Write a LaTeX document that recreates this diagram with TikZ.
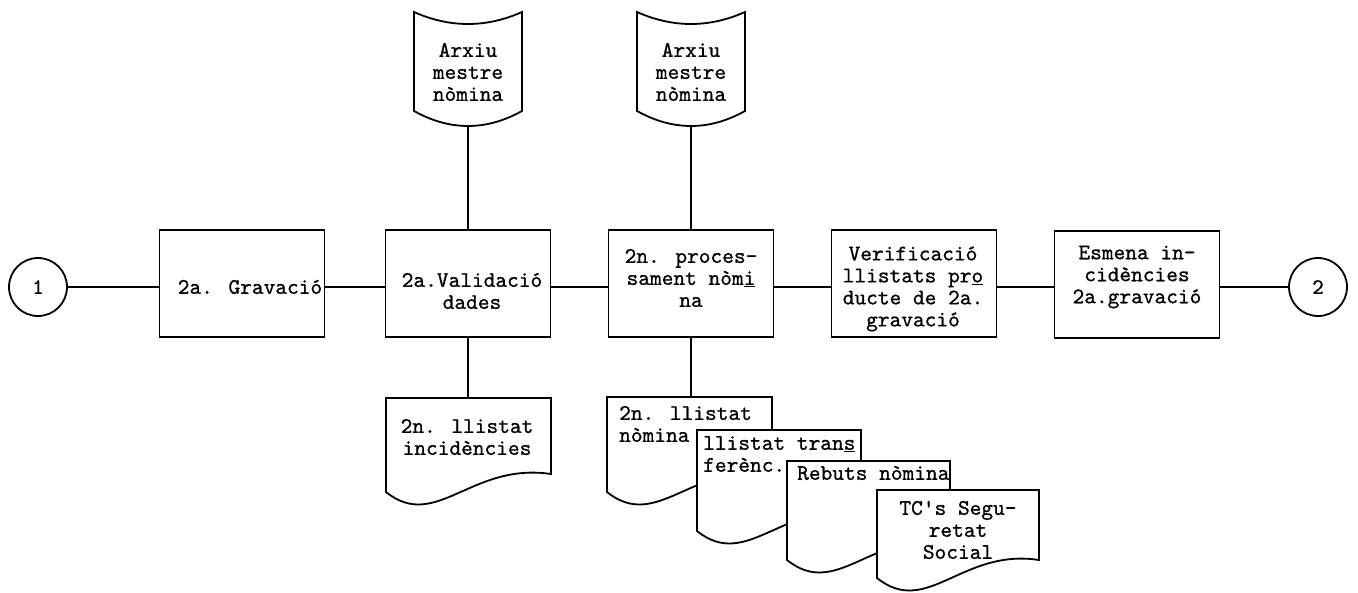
\documentclass[tikz,border=0pt]{standalone}
\usepackage{fontspec}
\newfontfamily\tw{lmmono10-regular}[Extension=.otf, FakeBold=0.8]
\newcommand\arxiushape[2]{%
  \draw[shp] (#2-54,12) .. controls (#2-18,28) and (#2+18,28) .. (#2+54,12)
    -- (#2+54,111) .. controls (#2+18,131) and (#2-18,131) .. (#2-54,111) -- cycle;
  \coordinate (#1) at (#2,126);}
\newcommand\docshape[5]{%
  \draw[shp] (#2,#3) -- (#2+#5,#3) -- (#2+#5,#3+#4-18)
    .. controls (#2+85,#3+#4-30) and (#2+50,#3+#4+40) .. (#2,#3+#4) -- cycle;
  \coordinate (#1) at (#2+#5/2,#3);}
\begin{document}
\begin{tikzpicture}[x=1pt,y=-1pt,
  ln/.style={line width=1.8pt},
  procbox/.style={draw, line width=1.8pt, minimum width=165pt, minimum height=107pt, inner sep=0pt},
  term/.style={draw, circle, line width=1.8pt, minimum size=58pt, inner sep=0pt, font=\tw\fontsize{22}{22}\selectfont},
  txt/.style={align=center, inner sep=0pt, font=\tw\fontsize{22.3}{22}\selectfont},
  txtl/.style={align=left, inner sep=0pt, anchor=west, font=\tw\fontsize{22.3}{22}\selectfont},
  shp/.style={draw, line width=1.8pt, fill=white, line join=miter}]
\fill[white] (0,0) rectangle (1358,592);
\useasboundingbox (0,0) rectangle (1358,592);
\coordinate (mainy) at (0,287);

% terminals and process boxes
\node[term] (c1) at (38,287) {1};
\node[procbox] (b1) at (242,283.5) {};
\node[procbox] (b2) at (468,283.5) {};
\node[procbox] (b3) at (691,283.5) {};
\node[procbox] (b4) at (914,283.5) {};
\node[procbox] (b5) at (1137,284.5) {};
\node[term] (c2) at (1318,287) {2};

\node[txt] (t1) at (250,287) {2a. Gravació};
\node[txt] (t2) at (472,291) {2a.Validació\\dades};
\node[txt] (t3) at (691,278) {2n. proces-\\sament nòm\underline{i}\\na};
\node[txt] (t4) at (913,289) {Verificació\\llistats pr\underline{o}\\ducte de 2a.\\gravació};
\node[txt] (t5) at (1137,277) {Esmena in-\\cidències\\2a.gravació};

% main flow
\draw[ln] (c1.east) -- (c1.east -| b1.west);
\draw[ln] (b1.east |- mainy) -- (b2.west |- mainy);
\draw[ln] (b2.east |- mainy) -- (b3.west |- mainy);
\draw[ln] (b3.east |- mainy) -- (b4.west |- mainy);
\draw[ln] (b4.east |- mainy) -- (b5.west |- mainy);
\draw[ln] (b5.east |- mainy) -- (c2.west);

% master files
\arxiushape{a1}{468}
\node[txt] (ta1) at (468,72) {Arxiu\\mestre\\nòmina};
\arxiushape{a2}{691}
\node[txt] (ta2) at (691,72) {Arxiu\\mestre\\nòmina};
\draw[ln] (a1) -- (a1 |- b2.north);
\draw[ln] (a2) -- (a2 |- b3.north);

% documents
\docshape{d0}{386}{398}{94}{165}
\node[txt] (td0) at (467,437) {2n. llistat\\incidències};
\draw[ln] (b2.south) -- (b2.south |- d0);

\docshape{dA}{607}{397}{95}{165}
\node[txtl] (tdA) at (619,424) {2n. llistat\\nòmina};
\draw[ln] (b3.south) -- (b3.south |- dA);
\docshape{dB}{697}{430}{101}{164}
\node[txtl] (tdB) at (703,454) {llistat tran\underline{s}\\ferènc.};
\docshape{dC}{787}{461}{99}{163}
\node[txtl] (tdC) at (797,473) {Rebuts nòmina};
\docshape{dD}{877}{490}{88}{162}
\node[txt] (tdD) at (958,530) {TC's Segu-\\retat\\Social};
\end{tikzpicture}
\end{document}
